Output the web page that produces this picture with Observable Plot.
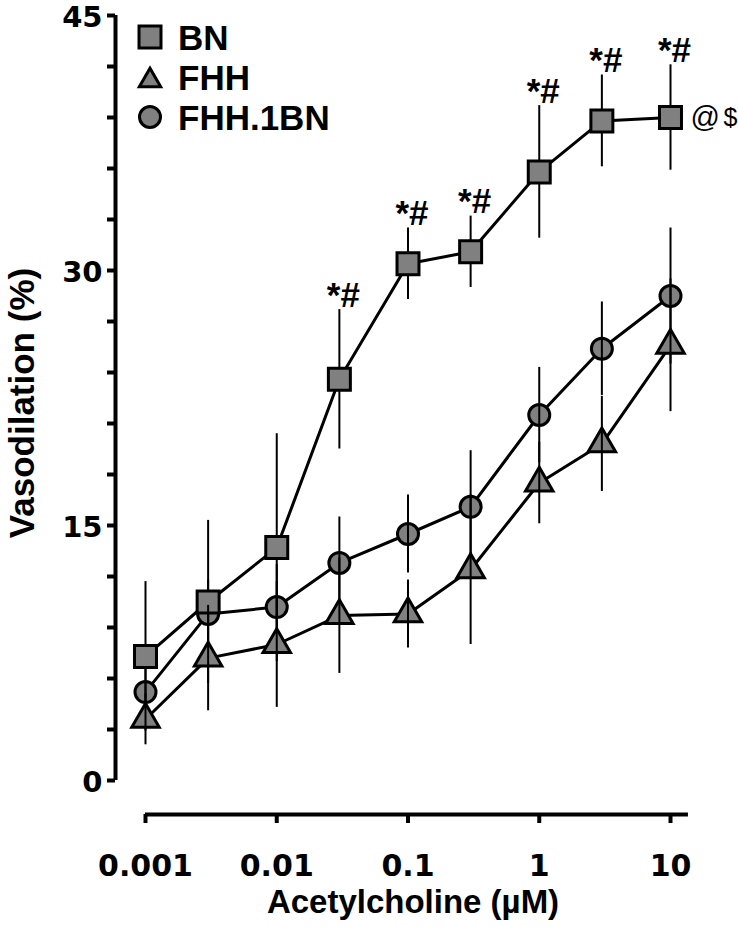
<!DOCTYPE html>
<html><head><meta charset="utf-8">
<script src="https://cdn.jsdelivr.net/npm/d3@7"></script>
<script src="https://cdn.jsdelivr.net/npm/@observablehq/plot@0.6"></script>
<style>body{margin:0;background:#fff}#chart{position:relative;width:738px;height:927px}#chart svg{overflow:visible}</style>
</head><body><div id="chart"></div>
<script>
// ---- data ----
const doses = [0.001, 0.003, 0.01, 0.03, 0.1, 0.3, 1, 3, 10];
const seriesNames = ["BN", "FHH", "FHH.1BN"];
const seriesSymbols = ["square", "triangle", "circle"];
const bnMean = [7.3, 10.5, 13.7, 23.6, 30.4, 31.1, 35.8, 38.8, 39.0];
const bnSem = [4.4, 4.8, 6.7, 4.1, 2.1, 2.1, 3.9, 2.7, 3.1];
const fhhMean = [3.6, 7.2, 8.0, 9.7, 9.8, 12.4, 17.5, 19.8, 25.6];
const fhhSem = [1.5, 3.1, 3.7, 3.4, 2.0, 4.4, 2.4, 2.8, 3.9];
const fhh1bnMean = [5.2, 9.8, 10.2, 12.8, 14.5, 16.1, 21.5, 25.4, 28.5];
const fhh1bnSem = [2.0, 2.0, 2.5, 2.7, 2.3, 3.3, 2.8, 2.75, 4.0];
const bnSig = ["", "", "", "*#", "*#", "*#", "*#", "*#", "*#"];
const endNote1 = "@";
const endNote2 = "$";
const xTicks = [0.001, 0.01, 0.1, 1, 10];
const yTicks = [0, 15, 30, 45];
const yMinorTicks = [0, 3, 6, 9, 12, 15, 18, 21, 24, 27, 30, 33, 36, 39, 42, 45];
const xLabel = "Acetylcholine (µM)";
const yLabel = "Vasodilation (%)";

const rowsOf = (mean, sem, sig) => doses.map((d, i) => ({dose: d, mean: mean[i], sem: sem[i], sig: sig ? sig[i] : ""}));
const bn = rowsOf(bnMean, bnSem, bnSig);
const fhh = rowsOf(fhhMean, fhhSem);
const fhh1bn = rowsOf(fhh1bnMean, fhh1bnSem);

const GRAY = "#808080";
const R = {square: 12.4, triangle: 10.2, circle: 10.5};
const seriesMarks = (rows, symbol, barsOnTop) => {
  const line = Plot.line(rows, {x: "dose", y: "mean", stroke: "black", strokeWidth: 3});
  const bars = Plot.ruleX(rows, {x: "dose", y1: d => d.mean - d.sem, y2: d => d.mean + d.sem, stroke: "black", strokeWidth: 2});
  const dots = Plot.dot(rows, {x: "dose", y: "mean", symbol: () => symbol, r: R[symbol], fill: GRAY, stroke: "black", strokeWidth: 3});
  return barsOnTop ? [line, dots, bars] : [line, bars, dots];
};

const fontMain = "'Liberation Sans', Arial, sans-serif";
const fontTicks = "'DejaVu Sans', sans-serif";

const chart = Plot.plot({
  width: 738, height: 927,
  marginLeft: 115, marginRight: 68, marginTop: 15, marginBottom: 113,
  insetLeft: 30, insetBottom: 34,
  x: {type: "log", domain: [0.001, 10]},
  y: {domain: [0, 45]},
  symbol: {type: "identity"},
  style: {fontFamily: fontMain, color: "black", background: "white", overflow: "visible"},
  marks: [
    // axes
    Plot.ruleX([doses[0]], {y1: yTicks[0], y2: yTicks[yTicks.length - 1], dx: -30, stroke: "black", strokeWidth: 4}),
    Plot.ruleY([yTicks[0]], {x1: doses[0], x2: 13.7, dy: 34, stroke: "black", strokeWidth: 4}),
    Plot.axisY({ticks: yMinorTicks, tickFormat: () => "", tickSize: 8, strokeWidth: 4, label: null}),
    Plot.axisY({ticks: yTicks, tickSize: 0, tickPadding: 13, dy: 2, fontSize: 29, fontWeight: "bold", fontFamily: fontTicks, label: null}),
    Plot.axisX({ticks: xTicks, tickFormat: d => String(d), tickSize: 9, tickPadding: 31, strokeWidth: 4, fontSize: 30, fontWeight: "bold", fontFamily: fontTicks, label: null}),
    Plot.text([yLabel], {frameAnchor: "left", textAnchor: "middle", rotate: -90, dx: -93, dy: -12, fontSize: 35, fontWeight: "bold", lineAnchor: "middle"}),
    Plot.text([xLabel], {frameAnchor: "bottom", textAnchor: "middle", dx: 20, dy: 88, fontSize: 33, fontWeight: "bold", lineAnchor: "middle"}),
    // series
    ...seriesMarks(fhh1bn, "circle", true),
    ...seriesMarks(bn, "square", false),
    ...seriesMarks(fhh, "triangle", true),
    // annotations
    Plot.text(bn.filter(d => d.sig), {x: "dose", y: d => d.mean + d.sem, text: "sig", dx: 4, dy: -3, lineAnchor: "bottom", fontSize: 35, fontWeight: "bold"}),
    Plot.text([bn[bn.length - 1]], {x: "dose", y: "mean", text: () => endNote1, dx: 20, textAnchor: "start", lineAnchor: "middle", fontSize: 29}),
    Plot.text([bn[bn.length - 1]], {x: "dose", y: "mean", text: () => endNote2, dx: 53, textAnchor: "start", lineAnchor: "middle", fontSize: 25})
  ]
});
document.getElementById("chart").appendChild(chart);

// legend drawn into the same svg
const svg = d3.select(chart);
const lg = svg.append("g").attr("class", "legend").attr("text-anchor", "start");
const symMap = {square: d3.symbolSquare, triangle: d3.symbolTriangle2, circle: d3.symbolCircle};
const symOffset = {square: 0, triangle: 3.5, circle: 0};
seriesNames.forEach((name, i) => {
  const sym = seriesSymbols[i];
  const cy = 37 + i * 40;
  lg.append("path")
    .attr("d", d3.symbol(symMap[sym], Math.PI * R[sym] * R[sym])())
    .attr("transform", `translate(150,${cy + symOffset[sym]})`)
    .attr("fill", GRAY).attr("stroke", "black").attr("stroke-width", 3);
  lg.append("text").attr("x", 178).attr("y", cy + 12.5)
    .attr("text-anchor", "start")
    .attr("font-family", fontMain).attr("font-weight", "bold").attr("font-size", 35)
    .attr("fill", "black").text(name);
});
</script>
</body></html>
